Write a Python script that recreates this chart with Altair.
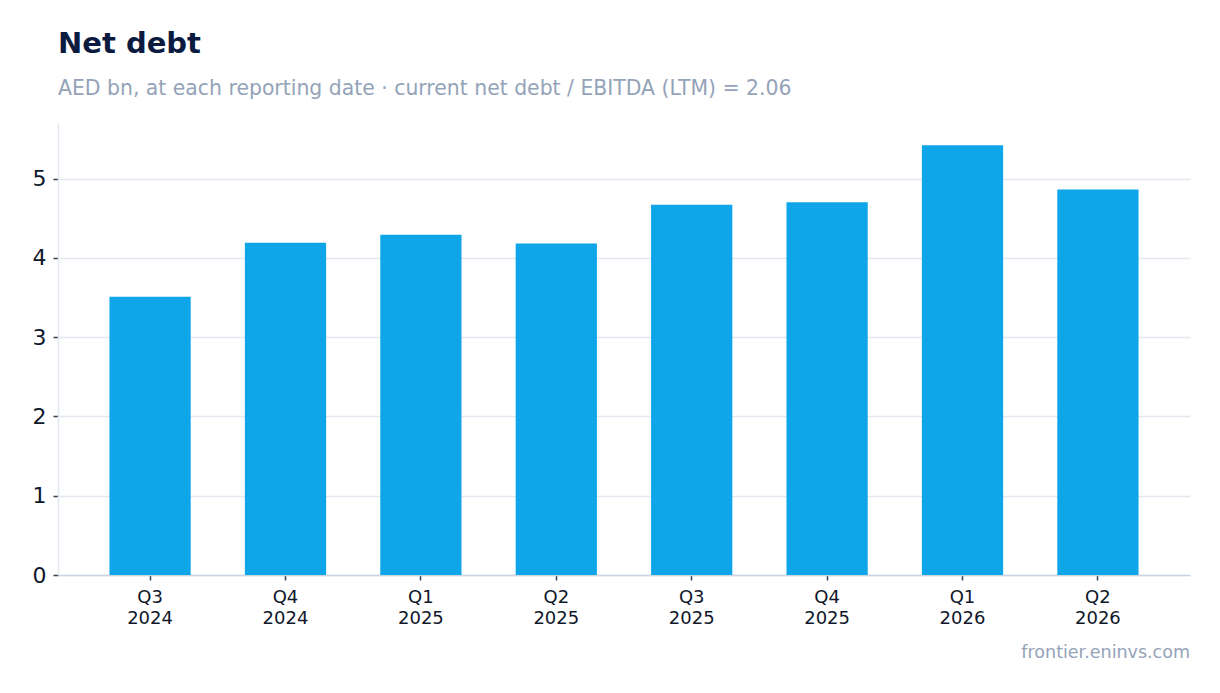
import altair as alt
import pandas as pd

quarters = ["Q3 2024", "Q4 2024", "Q1 2025", "Q2 2025", "Q3 2025", "Q4 2025", "Q1 2026", "Q2 2026"]
net_debt = [3.51, 4.19, 4.29, 4.18, 4.67, 4.70, 5.42, 4.86]
title_text = "Net debt"
subtitle_text = "AED bn, at each reporting date · current net debt / EBITDA (LTM) = 2.06"
footer_text = "frontier.eninvs.com"

df = pd.DataFrame({"quarter": quarters, "value": net_debt})

W, H = 1132, 452

bars = alt.Chart(df).mark_bar(color="#0ea5e9").encode(
    x=alt.X("quarter:N", sort=quarters, title=None,
            scale=alt.Scale(paddingInner=0.4, paddingOuter=0.38),
            axis=alt.Axis(labelAngle=0, labelExpr="split(datum.label, ' ')",
                          labelFontSize=18, labelColor="#0f172a", labelLineHeight=21,
                          labelPadding=8, tickSize=5, tickColor="#334155", tickWidth=1.5,
                          domainColor="#cbd5e1", domainWidth=1.5, grid=False,
                          labelFont="DejaVu Sans")),
    y=alt.Y("value:Q", title=None,
            scale=alt.Scale(domain=[0, 5.7], nice=False),
            axis=alt.Axis(values=[0, 1, 2, 3, 4, 5], labelFontSize=22, labelColor="#0f172a",
                          tickSize=5, tickColor="#334155", tickWidth=1.5, labelPadding=7,
                          domainColor="#e2e8f0", domainWidth=1.5,
                          gridColor="#e2e8f0", gridWidth=1.5, labelFont="DejaVu Sans")),
)

footer = alt.Chart(alt.Data(values=[{"t": footer_text}])).mark_text(
    align="right", baseline="alphabetic", fontSize=17.5, color="#94a3b8", font="DejaVu Sans"
).encode(
    text="t:N",
    x=alt.value(W),
    y=alt.value(H + 83),
)

chart = alt.layer(bars, footer).properties(
    width=W, height=H,
    title=alt.TitleParams(text=title_text, subtitle=subtitle_text, anchor="start", frame="group",
                          font="DejaVu Sans", fontSize=29, fontWeight="bold", color="#0b1b3f",
                          subtitleFont="DejaVu Sans", subtitleFontSize=20.4, subtitleColor="#94a3b8",
                          subtitlePadding=20, offset=24),
    autosize=alt.AutoSizeParams(type="none"),
    padding={"left": 50, "top": 115, "right": 22, "bottom": 100},
).configure_view(stroke=None)

chart.save("out.html", embed_options={"renderer": "svg", "actions": False})
